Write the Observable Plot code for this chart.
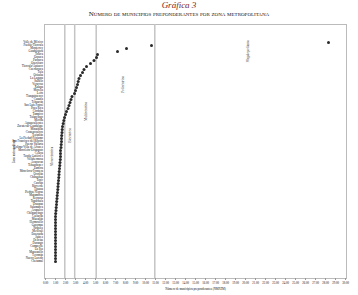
<!DOCTYPE html>
<html><head><meta charset="utf-8">
<script src="https://cdn.jsdelivr.net/npm/d3@7"></script>
<script src="https://cdn.jsdelivr.net/npm/@observablehq/plot@0.6"></script>
<style>
body{margin:0;background:#fff;width:358px;overflow:hidden}
#t{height:10px;line-height:10px;text-align:center;font:italic 9px "Liberation Serif","DejaVu Serif",serif;color:#7a1c1c}
#s{height:10px;line-height:10px;text-align:center;font:7px "Liberation Serif","DejaVu Serif",serif;font-variant:small-caps;color:#111}
svg{display:block}
</style></head><body>
<div id="t">Gráfica 3</div>
<div id="s">Número de municipios preponderantes por zona metropolitana</div>
<div id="c"></div>
<script>
const zonas = ["Valle de México","Puebla-Tlaxcala","Monterrey","Guadalajara","Toluca","Oaxaca","Pachuca","Querétaro","Tlaxcala-Apizaco","Cuernavaca","Tula","Orizaba","La Laguna","Saltillo","Veracruz","Xalapa","Morelia","León","Tianguistenco","Cuautla","Tehuacán","San Luis Potosí","Poza Rica","Córdoba","Tampico","Tulancingo","Mérida","Aguascalientes","Zacatecas-Guadalupe","Minatitlán","Coatzacoalcos","Teziutlán","La Piedad-Pénjamo","San Francisco del Rincón","Puerto Vallarta","Colima-Villa de Álvarez","Moroleón-Uriangato","Celaya","Tuxtla Gutiérrez","Villahermosa","Acayucan","Tehuantepec","Zamora","Monclova-Frontera","Ocotlán","Chihuahua","Tepic","Cancún","Rioverde","Tijuana","Piedras Negras","Matamoros","Reynosa","Tapachula","Uruapan","Salamanca","Acapulco","Chilpancingo","Culiacán","Mazatlán","Hermosillo","Guaymas","Nogales","Mexicali","Ensenada","Juárez","Delicias","Durango","Campeche","La Paz","Manzanillo","Tecomán","Nuevo Laredo","Chetumal"];
const nmpzm = [28.3,10.6,8.1,7.2,5.2,5.1,4.85,4.5,4.1,3.85,3.7,3.5,3.35,3.27,3.2,3.1,3.0,2.9,2.65,2.55,2.45,2.35,2.25,2.1,2.0,1.9,1.83,1.77,1.7,1.67,1.65,1.62,1.6,1.6,1.57,1.55,1.5,1.5,1.5,1.48,1.45,1.43,1.4,1.37,1.35,1.33,1.3,1.27,1.25,1.23,1.2,1.17,1.15,1.12,1.1,1.07,1.05,1.02,1,1,1,1,1,1,1,1,1,1,1,1,1,1,1,1];
const umbrales = [1.93, 2.92, 5.07, 10.93];
const tipos = ["Monocéntrica","Bicéntrica","Multicéntrica","Policéntrica","Megalopolitana"];
const tipoX = [0.6, 2.4, 4.0, 7.7, 20.2];
const tipoFila = [38, 31, 23, 14, 3];
const xTicks = [0,1,2,3,4,5,6,7,8,9,10,11,12,13,14,15,16,17,18,19,20,21,22,23,24,25,26,27,28,29,30];

const data = zonas.map((z,i)=>({zona:z, v:nmpzm[i]}));
const labs = tipos.map((t,i)=>({t, x:tipoX[i], y:zonas[tipoFila[i]]}));

const chart = Plot.plot({
  width: 358, height: 275,
  marginLeft: 44, marginRight: 12, marginTop: 4, marginBottom: 17,
  style: {fontFamily: "'Liberation Serif','DejaVu Serif',serif", color:"#111", background:"#fff"},
  x: {domain: [-0.1, 30.1]},
  y: {type: "point", domain: zonas, padding: 0.9},
  marks: [
    Plot.frame({stroke: "#bbb", strokeWidth: 1}),
    Plot.ruleX(umbrales, {stroke: "#c4c4c4", strokeWidth: 1.5}),
    Plot.axisX({ticks: xTicks, tickFormat: d3.format(".2f"), fontSize: 3, tickSize: 2, tickPadding: 1.5, stroke:"#999",
      label: "Número de municipios preponderantes (NMPZM)", labelAnchor: "center", labelOffset: 11, labelArrow: "none"}),
    Plot.axisY({fontSize: 3, tickSize: 0, tickPadding: 1.5,
      label: "Zona metropolitana", labelAnchor: "center", labelOffset: 32, labelArrow: "none"}),
    Plot.dot(data, {x: "v", y: "zona", r: 1.5, fill: "#2a2a2a", stroke: "none"}),
    Plot.text(labs, {x: "x", y: "y", text: "t", rotate: -90, fontSize: 3.5, fill: "#333"})
  ]
});
document.getElementById("c").appendChild(chart);
</script>
</body></html>
